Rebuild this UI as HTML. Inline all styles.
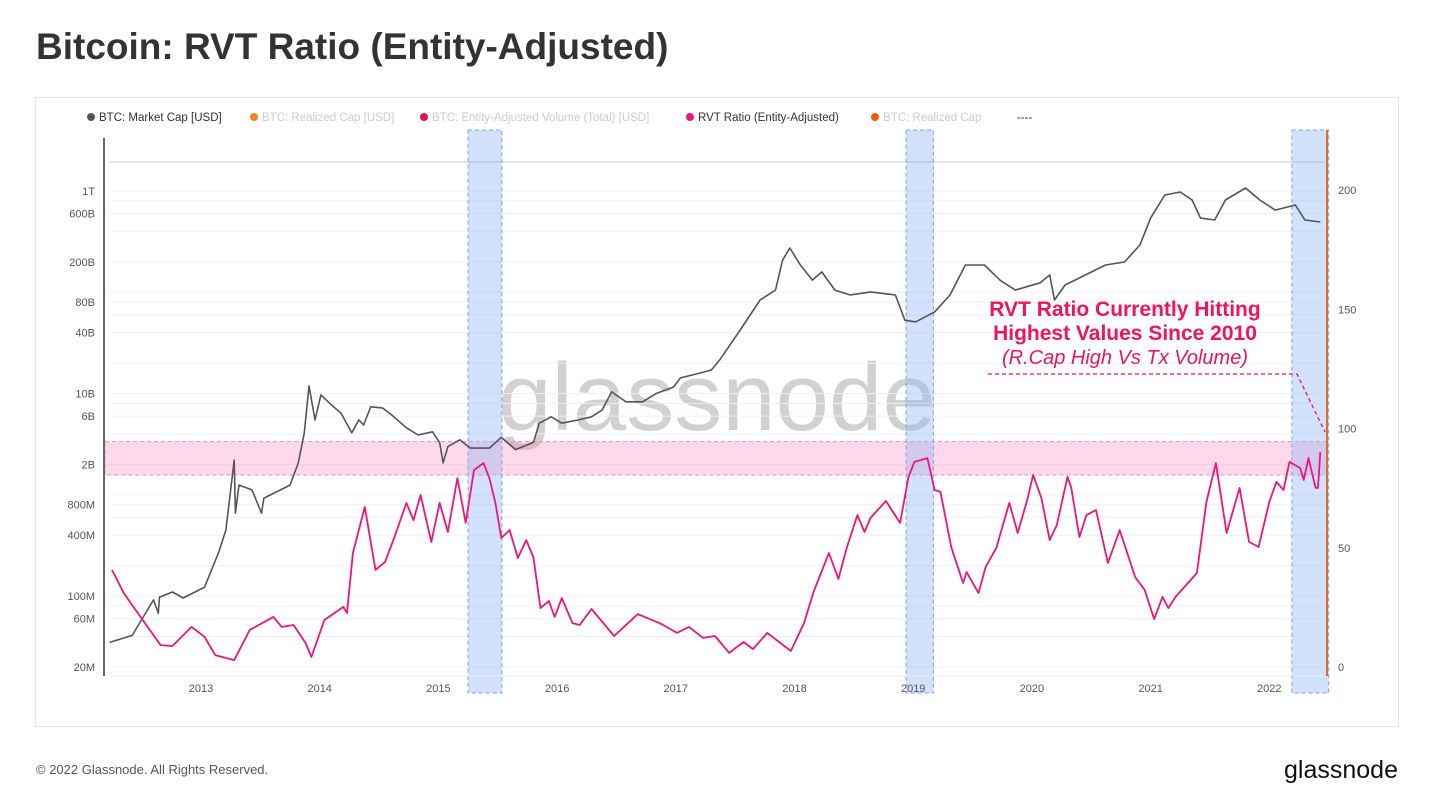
<!DOCTYPE html>
<html><head><meta charset="utf-8"><style>
body{margin:0;background:#fff;width:1430px;height:803px;overflow:hidden;font-family:"Liberation Sans",sans-serif;}
</style></head><body>
<svg id="c" width="1430" height="803" xmlns="http://www.w3.org/2000/svg">
<text x="36" y="59" font-size="37" font-weight="bold" fill="#333">Bitcoin: RVT Ratio (Entity-Adjusted)</text>
<rect x="35.5" y="97.5" width="1363" height="629" fill="none" stroke="#e6e6e6"/>
<g id="legend" font-size="11.5">
<g><circle cx="91" cy="117" r="4" fill="#555"/><text x="99" y="121" fill="#333">BTC: Market Cap [USD]</text></g>
<g><circle cx="254" cy="117" r="4" fill="#f7831f"/><text x="262" y="121" fill="#ccc">BTC: Realized Cap [USD]</text></g>
<g><circle cx="424" cy="117" r="4" fill="#e8114a"/><text x="432" y="121" fill="#ccc">BTC: Entity-Adjusted Volume (Total) [USD]</text></g>
<g><circle cx="690" cy="117" r="4" fill="#f0157a"/><text x="698" y="121" fill="#333">RVT Ratio (Entity-Adjusted)</text></g>
<g><circle cx="875" cy="117" r="4" fill="#f25c10"/><text x="883" y="121" fill="#ccc">BTC: Realized Cap</text></g>
<g><text x="1017" y="121" fill="#333">----</text></g>
</g>
<text x="717" y="430" font-size="96" fill="#000" fill-opacity="0.18" text-anchor="middle">glassnode</text>
<g id="grid"></g>
<g id="bands"></g>
<g id="axes"></g>
<g id="series"></g>
<g font-weight="bold" font-size="21" fill="#f0145a" text-anchor="middle">
<text x="1125" y="316">RVT Ratio Currently Hitting</text>
<text x="1125" y="340">Highest Values Since 2010</text>
<text x="1125" y="364" font-weight="normal" font-style="italic" font-size="20">(R.Cap High Vs Tx Volume)</text>
<path d="M988 374 L1297 374 L1325 432" fill="none" stroke="#f0145a" stroke-width="1.3" stroke-dasharray="4,3"/>
</g>
<text x="36" y="774" font-size="13" fill="#555">© 2022 Glassnode. All Rights Reserved.</text>
<text x="1398" y="778" font-size="25" fill="#111" text-anchor="end">glassnode</text>
</svg>
<script>
const mcDates=[2012.23,2012.42,2012.60,2012.64,2012.65,2012.76,2012.85,2013.03,2013.15,2013.21,2013.28,2013.29,2013.32,2013.43,2013.51,2013.53,2013.75,2013.82,2013.87,2013.91,2013.96,2014.01,2014.10,2014.18,2014.27,2014.33,2014.37,2014.43,2014.53,2014.61,2014.73,2014.83,2014.95,2015.01,2015.04,2015.08,2015.18,2015.27,2015.43,2015.53,2015.65,2015.80,2015.85,2015.95,2016.04,2016.18,2016.29,2016.38,2016.46,2016.58,2016.72,2016.84,2016.98,2017.04,2017.21,2017.30,2017.37,2017.54,2017.71,2017.84,2017.90,2017.96,2018.05,2018.15,2018.23,2018.34,2018.47,2018.64,2018.85,2018.93,2019.02,2019.18,2019.31,2019.44,2019.60,2019.73,2019.86,2020.07,2020.15,2020.19,2020.28,2020.45,2020.62,2020.78,2020.91,2021.00,2021.12,2021.25,2021.35,2021.42,2021.54,2021.63,2021.80,2021.92,2022.05,2022.22,2022.30,2022.43];
// market cap in billions USD
const mcValues=[0.035,0.041,0.092,0.068,0.098,0.110,0.096,0.123,0.273,0.45,2.2,0.66,1.25,1.12,0.66,0.93,1.25,2.07,4.1,11.9,5.5,9.7,7.7,6.4,4.1,5.5,4.9,7.4,7.2,6.1,4.6,3.9,4.2,3.3,2.07,3.0,3.5,2.9,2.9,3.7,2.8,3.3,5.1,5.9,5.1,5.5,5.9,6.9,10.4,8.3,8.3,10.1,11.6,14.3,16,17.1,21.5,42,84,105,208,274,186,132,159,105,94,101,94,53,51,64,94,186,186,132,105,124,148,84,118,148,186,199,293,540,912,978,815,540,517,815,1070,815,648,728,517,494];
const rvtDates=[2012.25,2012.35,2012.49,2012.66,2012.76,2012.92,2013.03,2013.12,2013.28,2013.41,2013.61,2013.68,2013.78,2013.88,2013.93,2014.04,2014.20,2014.23,2014.28,2014.38,2014.47,2014.55,2014.63,2014.73,2014.79,2014.85,2014.94,2015.01,2015.08,2015.16,2015.23,2015.30,2015.38,2015.43,2015.48,2015.53,2015.60,2015.67,2015.74,2015.80,2015.86,2015.93,2015.98,2016.04,2016.13,2016.19,2016.29,2016.48,2016.68,2016.88,2017.01,2017.11,2017.23,2017.33,2017.45,2017.57,2017.65,2017.77,2017.97,2018.08,2018.16,2018.29,2018.37,2018.44,2018.53,2018.59,2018.64,2018.77,2018.89,2018.96,2019.01,2019.12,2019.18,2019.23,2019.32,2019.42,2019.45,2019.55,2019.61,2019.70,2019.81,2019.88,2019.96,2020.01,2020.08,2020.15,2020.21,2020.30,2020.33,2020.40,2020.46,2020.54,2020.64,2020.74,2020.87,2020.95,2021.03,2021.10,2021.15,2021.21,2021.30,2021.39,2021.47,2021.55,2021.64,2021.75,2021.83,2021.91,2022.00,2022.06,2022.12,2022.17,2022.26,2022.29,2022.33,2022.39,2022.41,2022.43];
const rvtValues=[40.7,31.0,21.0,9.2,8.8,16.8,12.6,5.0,2.9,15.5,21.0,16.8,17.6,10.1,4.2,19.7,25.2,22.6,47.8,67.1,40.7,44.0,54.5,68.8,61.6,72.1,52.4,68.8,56.6,79.2,60.4,82.6,85.5,79.2,68.8,54.1,57.4,45.7,53.2,46.1,24.7,27.7,21.0,28.9,18.4,17.6,24.3,13.0,22.2,18.0,14.3,16.8,12.2,13.0,5.9,10.5,7.5,14.3,6.7,18.4,31.4,47.8,36.9,49.9,63.7,56.6,62.5,69.6,60.4,79.7,86.0,87.6,74.2,73.4,50.3,35.2,39.8,31.0,41.9,49.9,68.8,56.2,70.0,80.5,70.9,53.2,59.5,79.7,75.5,54.5,63.7,65.8,43.6,57.4,37.7,32.3,20.1,29.4,24.7,29.4,34.4,39.4,69.2,85.5,56.2,75.1,52.4,50.3,69.2,77.6,74.2,86.0,83.4,78.4,87.6,75.1,75.1,90.1];
const xTicks=[2013,2014,2015,2016,2017,2018,2019,2020,2021,2022];
const leftTicks=[0.02,0.06,0.1,0.4,0.8,2,6,10,40,80,200,600,1000];
const leftTickLabels=["20M","60M","100M","400M","800M","2B","6B","10B","40B","80B","200B","600B","1T"];
const rightTicks=[0,50,100,150,200];
const bandRanges=[[2015.25,2015.535],[2018.94,2019.17],[2022.19,2022.50]];
const zoneRange=[80.5,94.5];

const NS="http://www.w3.org/2000/svg";
const X0=105,X1=1327,YT=130,YB=675;
function x(t){return 201+(t-2013)*118.7;}
function yL(vB){return 667-(Math.log10(vB*1e9)-Math.log10(2e7))*101.3;}
function yR(v){return 667-v*2.385;}
function mk(tag,attrs,parent){const e=document.createElementNS(NS,tag);for(const k in attrs)e.setAttribute(k,attrs[k]);parent.appendChild(e);return e;}
const grid=document.getElementById('grid'),bands=document.getElementById('bands'),axes=document.getElementById('axes'),series=document.getElementById('series');
for(let d=-2;d<=3;d++){for(let m of [1,2,4,6,8]){const v=m*Math.pow(10,d);if(v<0.02||v>2000)continue;const yy=yL(v);if(yy<165)continue;
const l=mk('line',{x1:110,x2:1325,y1:yy,y2:yy,stroke:'#f0f0f0','stroke-width':1},grid);

}}
const topLine=mk('line',{x1:110,x2:1325,y1:162,y2:162,stroke:'#c8c8c8'},grid);


const z=mk('rect',{x:X0,y:yR(zoneRange[1]),width:X1-X0,height:yR(zoneRange[0])-yR(zoneRange[1]),fill:'#ff7eb6','fill-opacity':0.3,stroke:'#f58bb5','stroke-dasharray':'4,3'},bands);


bandRanges.forEach(b=>{const r=mk('rect',{x:x(b[0]),y:YT,width:x(b[1])-x(b[0]),height:693-YT,fill:'#8fb4f8','fill-opacity':0.4,stroke:'#7aa4f0','stroke-dasharray':'4,3'},bands);

});
const la=mk('line',{x1:104,x2:104,y1:138,y2:676,stroke:'#666','stroke-width':2},axes);


const ra=mk('line',{x1:X1,x2:X1,y1:YT,y2:676,stroke:'#e46a2a','stroke-width':2},axes);


const xb=mk('line',{x1:110,x2:1325,y1:676,y2:676,stroke:'#eee'},axes);


leftTicks.forEach((v,i)=>{const t=mk('text',{x:95,y:yL(v)+4,'font-size':11,fill:'#555','text-anchor':'end'},axes);t.textContent=leftTickLabels[i];

});
rightTicks.forEach(v=>{const t=mk('text',{x:1338,y:yR(v)+4,'font-size':11,fill:'#555'},axes);t.textContent=String(v);

});
xTicks.forEach(v=>{const t=mk('text',{x:x(v),y:692,'font-size':11,fill:'#555','text-anchor':'middle'},axes);t.textContent=String(v);

});
const mc=mk('path',{d:mcDates.map((t,i)=>(i?'L':'M')+x(t).toFixed(1)+' '+yL(mcValues[i]).toFixed(1)).join(' '),fill:'none',stroke:'#555','stroke-width':1.6,'stroke-linejoin':'round'},series);


const rv=mk('path',{d:rvtDates.map((t,i)=>(i?'L':'M')+x(t).toFixed(1)+' '+yR(rvtValues[i]).toFixed(1)).join(' '),fill:'none',stroke:'#f0157a','stroke-width':1.8,'stroke-linejoin':'round'},series);


</script>
</body></html>
